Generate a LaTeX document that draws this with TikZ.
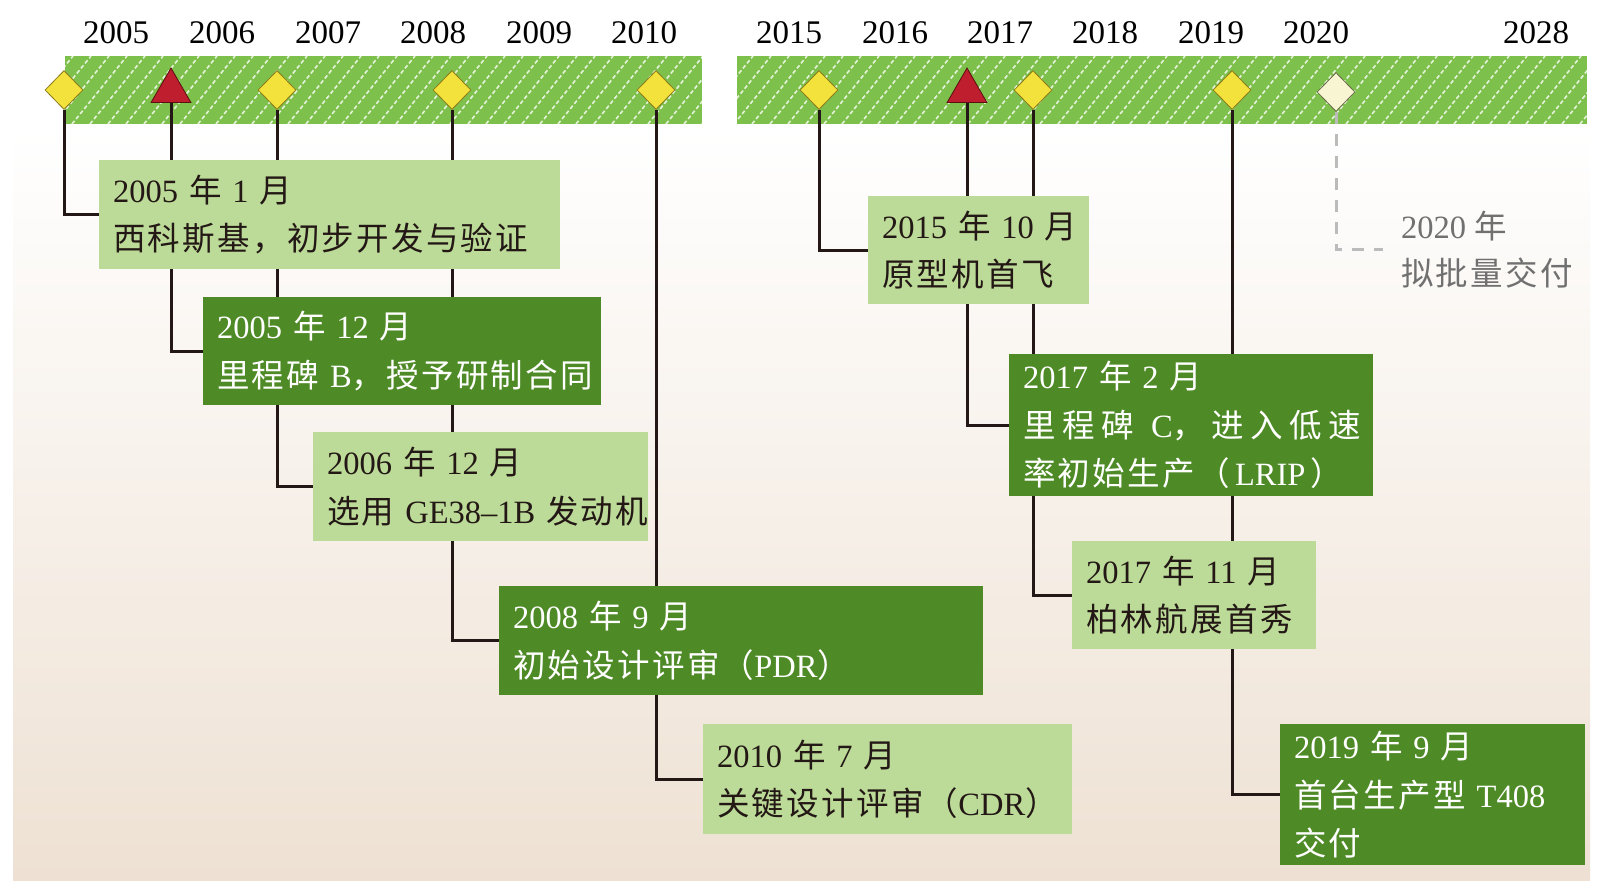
\documentclass[tikz,border=0pt]{standalone}
\usepackage{fontspec}
\setmainfont{Liberation Serif}
\newfontfamily\cjk[LetterSpace=7]{Noto Sans CJK SC}
\usetikzlibrary{shapes.geometric}
\definecolor{bargreen}{HTML}{7DC04B}
\definecolor{cLight}{HTML}{BCDB98}
\definecolor{cDark}{HTML}{4E8A26}
\definecolor{bgbeige}{HTML}{EEE1D3}
\definecolor{diamyellow}{HTML}{F3E13C}
\definecolor{diamedge}{HTML}{8C7B1A}
\definecolor{trired}{HTML}{BE1E2D}
\definecolor{triedge}{HTML}{5A1010}
\definecolor{palefill}{HTML}{F8F5D2}
\definecolor{paleedge}{HTML}{6A6A4A}
\definecolor{inkblack}{HTML}{231815}
\definecolor{graytext}{HTML}{707070}
\definecolor{graydash}{HTML}{BBBBBB}
\pgfdeclarelayer{back}
\pgfdeclarelayer{lines}
\pgfsetlayers{back,lines,main}
\newcommand{\boxfont}{\fontsize{32.5}{48.5}\selectfont}
\tikzset{
  yearlbl/.style={font=\fontsize{33}{33}\selectfont, text=black, inner sep=0pt},
  diam/.style={diamond, draw=diamedge, fill=diamyellow, minimum width=38pt, minimum height=39pt, inner sep=0pt, line width=0.8pt},
  palediam/.style={diam, draw=paleedge, fill=palefill},
  tri/.style={regular polygon, regular polygon sides=3, draw=triedge, fill=trired, minimum size=46pt, inner sep=0pt, line width=0.8pt},
  hatch/.style={white, line width=1.6pt, dash pattern=on 4pt off 2.5pt, opacity=0.8},
  conn/.style={draw=inkblack, line width=3pt},
  dashconn/.style={draw=graydash, line width=3pt, dash pattern=on 12pt off 10pt},
  lightbox/.style={fill=cLight, text=inkblack, anchor=north west, align=left, inner xsep=14pt, inner ysep=0pt, font=\boxfont},
  darkbox/.style={lightbox, fill=cDark, text=white},
  graylbl/.style={text=graytext, anchor=west, align=left, inner xsep=18pt, inner ysep=0pt, font=\fontsize{32.5}{47}\selectfont}
}
\begin{document}
\begin{tikzpicture}[x=1pt, y=-1pt]
\useasboundingbox (0,0) rectangle (1600,881);
\begin{pgfonlayer}{back}
  \fill[white] (0,0) rectangle (1600,881);
  \shade[top color=white, bottom color=bgbeige] (13,130) rectangle (1590,880);
  \begin{scope}
    \clip (65,56) rectangle (702,124);
    \fill[bargreen] (65,56) rectangle (702,124);
    \foreach \x in {0,18,...,720} \draw[hatch] (\x,124) -- ++(55,-68);
  \end{scope}
  \begin{scope}
    \clip (737,56) rectangle (1587,124);
    \fill[bargreen] (737,56) rectangle (1587,124);
    \foreach \x in {680,698,...,1600} \draw[hatch] (\x,124) -- ++(55,-68);
  \end{scope}
\end{pgfonlayer}

% year labels
\node[yearlbl] (y05) at (116,33) {2005};
\node[yearlbl] (y06) at (222,33) {2006};
\node[yearlbl] (y07) at (328,33) {2007};
\node[yearlbl] (y08) at (433,33) {2008};
\node[yearlbl] (y09) at (539,33) {2009};
\node[yearlbl] (y10) at (644,33) {2010};
\node[yearlbl] (y15) at (789,33) {2015};
\node[yearlbl] (y16) at (895,33) {2016};
\node[yearlbl] (y17) at (1000,33) {2017};
\node[yearlbl] (y18) at (1105,33) {2018};
\node[yearlbl] (y19) at (1211,33) {2019};
\node[yearlbl] (y20) at (1316,33) {2020};
\node[yearlbl] (y28) at (1536,33) {2028};

% markers
\node[diam] (m1) at (64,90) {};
\node[tri] (m2) at (171,91) {};
\node[diam] (m3) at (277,90) {};
\node[diam] (m4) at (452,90) {};
\node[diam] (m5) at (656,90) {};
\node[diam] (m6) at (819,90) {};
\node[tri] (m7) at (967,91) {};
\node[diam] (m8) at (1033,90) {};
\node[diam] (m9) at (1232,90) {};
\node[palediam] (m10) at (1336,92) {};

% boxes
\node[lightbox, text width=433pt, minimum height=109pt] (b1) at (99,160)
  {2005~{\cjk 年}~1~{\cjk 月}\\{\cjk 西科斯基，初步开发与验证}};
\node[darkbox, text width=370pt, minimum height=108pt] (b2) at (203,297)
  {2005~{\cjk 年}~12~{\cjk 月}\\{\cjk 里程碑}~B{\cjk ，授予研制合同}};
\node[lightbox, text width=307pt, minimum height=109pt] (b3) at (313,432)
  {2006~{\cjk 年}~12~{\cjk 月}\\\mbox{{\cjk 选用}~GE38–1B~{\cjk 发动机}}};
\node[darkbox, text width=456pt, minimum height=109pt] (b4) at (499,586)
  {2008~{\cjk 年}~9~{\cjk 月}\\{\cjk 初始设计评审（}PDR{\cjk ）}};
\node[lightbox, text width=341pt, minimum height=110pt] (b5) at (703,724)
  {2010~{\cjk 年}~7~{\cjk 月}\\{\cjk 关键设计评审（}CDR{\cjk ）}};
\node[lightbox, text width=193pt, minimum height=108pt] (b6) at (868,196)
  {2015~{\cjk 年}~10~{\cjk 月}\\{\cjk 原型机首飞}};
\node[darkbox, text width=336pt, minimum height=142pt] (b7) at (1009,354)
  {2017~{\cjk 年}~2~{\cjk 月}\\\makebox[338pt][s]{{\cjk 里}\hfil{\cjk 程}\hfil{\cjk 碑}\hfil~C{\cjk ，}\hfil{\cjk 进}\hfil{\cjk 入}\hfil{\cjk 低}\hfil{\cjk 速}}\\\mbox{{\cjk 率初始生产（}\,LRIP\,{\cjk ）}}};
\node[lightbox, text width=216pt, minimum height=108pt] (b8) at (1072,541)
  {2017~{\cjk 年}~11~{\cjk 月}\\{\cjk 柏林航展首秀}};
\node[darkbox, text width=277pt, minimum height=141pt] (b9) at (1280,724)
  {2019~{\cjk 年}~9~{\cjk 月}\\\mbox{{\cjk 首台生产型}~T408}\\{\cjk 交付}};
\node[graylbl] (g1) at (1383,249.5) {2020~{\cjk 年}\\{\cjk 拟批量交付}};

% connectors
\begin{pgfonlayer}{lines}
  \draw[conn] (m1) |- (b1.west);
  \draw[conn] (m2) |- (b2.west);
  \draw[conn] (m3) |- (b3.west);
  \draw[conn] (m4) |- (b4.west);
  \draw[conn] (m5) |- (b5.west);
  \draw[conn] (m6) |- (b6.west);
  \draw[conn] (m7) |- (b7.west);
  \draw[conn] (m8) |- (b8.west);
  \draw[conn] (m9) |- (b9.west);
  \draw[dashconn] (m10) |- (g1.west);
\end{pgfonlayer}
\end{tikzpicture}
\end{document}
